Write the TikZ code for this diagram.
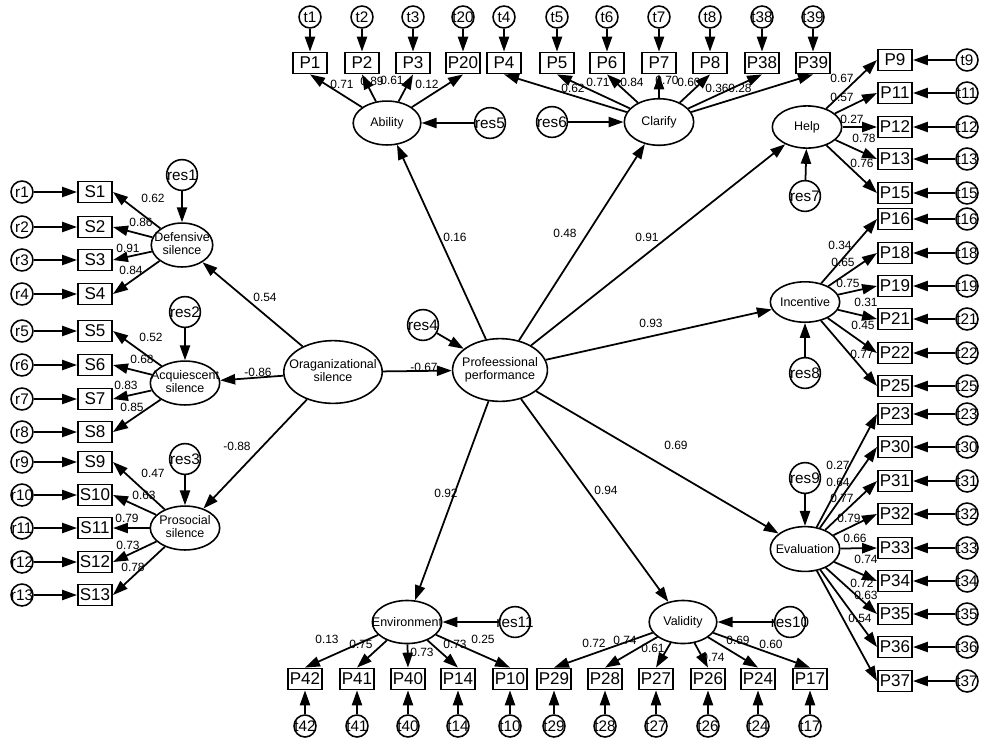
\documentclass[tikz,border=0pt]{standalone}
\usepackage{fontspec}
\setmainfont{Liberation Sans}
\usetikzlibrary{shapes.geometric, arrows.meta}

\newcommand{\nowidth}[1]{\makebox[0pt]{#1}}
\newcommand{\twolines}[2]{\makebox[0pt]{\begin{tabular}{@{}c@{}}#1\\#2\end{tabular}}}

\begin{document}
\begin{tikzpicture}[
            x=0.02cm, y=-0.02cm,
            obs/.style={rectangle, draw, line width=1pt, minimum width=19.5pt, minimum height=12pt, inner sep=0pt, font=\fontsize{9.7}{10}\selectfont}, % observed items
            err/.style={circle, draw, line width=0.9pt, minimum size=12.5pt, inner sep=0pt, font=\fontsize{8.7}{9}\selectfont}, % error terms
            res/.style={circle, draw, line width=0.9pt, minimum size=17.5pt, inner sep=0pt, font=\fontsize{8.7}{9}\selectfont}, % residuals
            lat/.style={ellipse, draw, line width=0.9pt, minimum width=39.5pt, minimum height=25pt, inner sep=0pt, font=\fontsize{7.1}{7.2}\selectfont}, % latent factors
            big/.style={lat, minimum width=56pt, minimum height=35.7pt}, % main constructs
            arr/.style={-{Triangle[length=8.5pt,width=5.8pt]}, line width=1pt},
            lbl/.style={font=\fontsize{6.8}{7}\selectfont, inner sep=0pt}
            ]
    \useasboundingbox (0,0) rectangle (1000,748);

    % Latent variables
    \node[lat, minimum width=35pt] (def) at (182,245) {\twolines{Defensive}{silence}};
    \node[lat] (acq) at (185,383) {\twolines{Acquiescent}{silence}};
    \node[lat] (pro) at (185,528) {\twolines{Prosocial}{silence}};
    \node[big] (org) at (333,372) {\twolines{Oraganizational}{silence}};
    \node[big, minimum width=54pt] (perf) at (500,370) {\twolines{Profeessional}{performance}};
    \node[lat, minimum width=38.5pt] (abil) at (387,123) {\nowidth{Ability}};
    \node[lat, minimum height=26.5pt] (clar) at (659,122) {\nowidth{Clarify}};
    \node[lat, minimum height=24pt] (help) at (807,127) {\nowidth{Help}};
    \node[lat, minimum height=23pt] (ince) at (805,302) {\nowidth{Incentive}};
    \node[lat, minimum height=25.5pt] (eval) at (805,549) {\nowidth{Evaluation}};
    \node[lat, minimum height=24.5pt] (envi) at (407,622) {\nowidth{Environment}};
    \node[lat, minimum width=38.5pt, minimum height=24.5pt] (vali) at (683,622) {\nowidth{Validity}};

    % Residuals
    \foreach \n/\l/\x/\y in {res1/def/182/175, res2/acq/185/312, res3/pro/185/459, res4/perf/423/325,
                             res5/abil/490/123, res6/clar/552/122, res7/help/805/196, res8/ince/805/373,
                             res9/eval/805/478, res10/vali/790/622, res11/envi/515/622} {
        \node[res] (\n) at (\x,\y) {\nowidth{\n}};
        \draw[arr] (\n) -- (\l);
    }

    % Silence items (left)
    \foreach \i/\y in {1/192, 2/227, 3/260, 4/294, 5/331, 6/365, 7/399, 8/432,
                       9/462, 10/495, 11/528, 12/562, 13/595} {
        \node[obs] (S\i) at (95,\y) {S\i};
        \node[err] (r\i) at (22,\y) {\nowidth{r\i}};
        \draw[arr] (r\i) -- (S\i);
    }
    \foreach \f/\t/\v/\x/\y in {def/1/0.62/153/198, def/2/0.86/141/222, def/3/0.91/128/248, def/4/0.84/131/270,
                                acq/5/0.52/151/337, acq/6/0.68/142/359, acq/7/0.83/126/385, acq/8/0.85/132/407,
                                pro/9/0.47/153/473, pro/10/0.63/144/495, pro/11/0.79/127/518,
                                pro/12/0.73/128/545, pro/13/0.78/133/567} {
        \draw[arr] (\f) -- (S\t.east);
        \node[lbl] (w-\f-\t) at (\x,\y) {\v};
    }

    % Items on top
    \foreach \i/\x in {1/310, 2/362, 3/413, 20/463, 4/504, 5/557, 6/607, 7/659, 8/710, 38/762, 39/813} {
        \node[obs] (P\i) at (\x,63) {P\i};
        \node[err] (t\i) at (\x,17) {\nowidth{t\i}};
        \draw[arr] (t\i) -- (P\i);
    }
    \foreach \f/\t/\v/\x/\y in {abil/1/0.71/342/84, abil/2/0.89/372/81, abil/3/0.61/392/80, abil/20/0.12/427/84,
                                clar/4/0.62/573/88, clar/5/0.71/598/82, clar/6/0.84/632/82, clar/7/0.70/667/80,
                                clar/8/0.60/689/82, clar/38/0.36/717/88, clar/39/0.28/740/88} {
        \draw[arr] (\f) -- (P\t.south);
        \node[lbl] (w-\f-\t) at (\x,\y) {\v};
    }

    % Items on the right
    \foreach \i/\y in {9/60, 11/93, 12/127, 13/159, 15/193, 16/219, 18/253, 19/286, 21/319, 22/353,
                       25/386, 23/414, 30/447, 31/481, 32/514, 33/548, 34/581, 35/614, 36/647, 37/681} {
        \node[obs] (P\i) at (895,\y) {P\i};
        \node[err] (t\i) at (967,\y) {\nowidth{t\i}};
        \draw[arr] (t\i) -- (P\i);
    }
    \foreach \f/\t/\v/\x/\y in {help/9/0.67/842/78, help/11/0.57/842/97, help/12/0.27/852/119,
                                help/13/0.78/864/138, help/15/0.76/862/163,
                                ince/16/0.34/840/245, ince/18/0.65/843/262, ince/19/0.75/848/283,
                                ince/21/0.31/866/302, ince/22/0.45/863/325, ince/25/0.77/862/354,
                                eval/23/0.27/838/465, eval/30/0.64/838/482, eval/31/0.77/842/498,
                                eval/32/0.79/849/518, eval/33/0.66/855/538, eval/34/0.74/866/559,
                                eval/35/0.72/862/583, eval/36/0.63/866/595, eval/37/0.54/860/618} {
        \draw[arr] (\f) -- (P\t.west);
        \node[lbl] (w-\f-\t) at (\x,\y) {\v};
    }

    % Items at the bottom
    \foreach \i/\x in {42/305, 41/357, 40/408, 14/458, 10/510, 29/554, 28/605, 27/656, 26/708, 24/758, 17/810} {
        \node[obs] (P\i) at (\x,679) {P\i};
        \node[err] (t\i) at (\x,726) {\nowidth{t\i}};
        \draw[arr] (t\i) -- (P\i);
    }
    \foreach \f/\t/\v/\x/\y in {envi/42/0.13/327/639, envi/41/0.75/361/644, envi/40/0.73/422/652,
                                envi/14/0.73/455/644, envi/10/0.25/483/639,
                                vali/29/0.72/594/643, vali/28/0.74/625/640, vali/27/0.61/653/648,
                                vali/26/0.74/713/657, vali/24/0.69/738/640, vali/17/0.60/771/644} {
        \draw[arr] (\f) -- (P\t.north);
        \node[lbl] (w-\f-\t) at (\x,\y) {\v};
    }

    % Structural paths
    \foreach \f/\t/\v/\x/\y in {org/def/0.54/265/297, org/acq/-0.86/258/372, org/pro/-0.88/237/446,
                                org/perf/-0.67/424/367, perf/abil/0.16/455/237, perf/clar/0.48/565/233,
                                perf/help/0.91/647/237, perf/ince/0.93/651/323, perf/eval/0.69/676/445,
                                perf/vali/0.94/606/490, perf/envi/0.92/446/493} {
        \draw[arr] (\f) -- (\t);
        \node[lbl] (w-\f-\t) at (\x,\y) {\v};
    }

\end{tikzpicture}
\end{document}
